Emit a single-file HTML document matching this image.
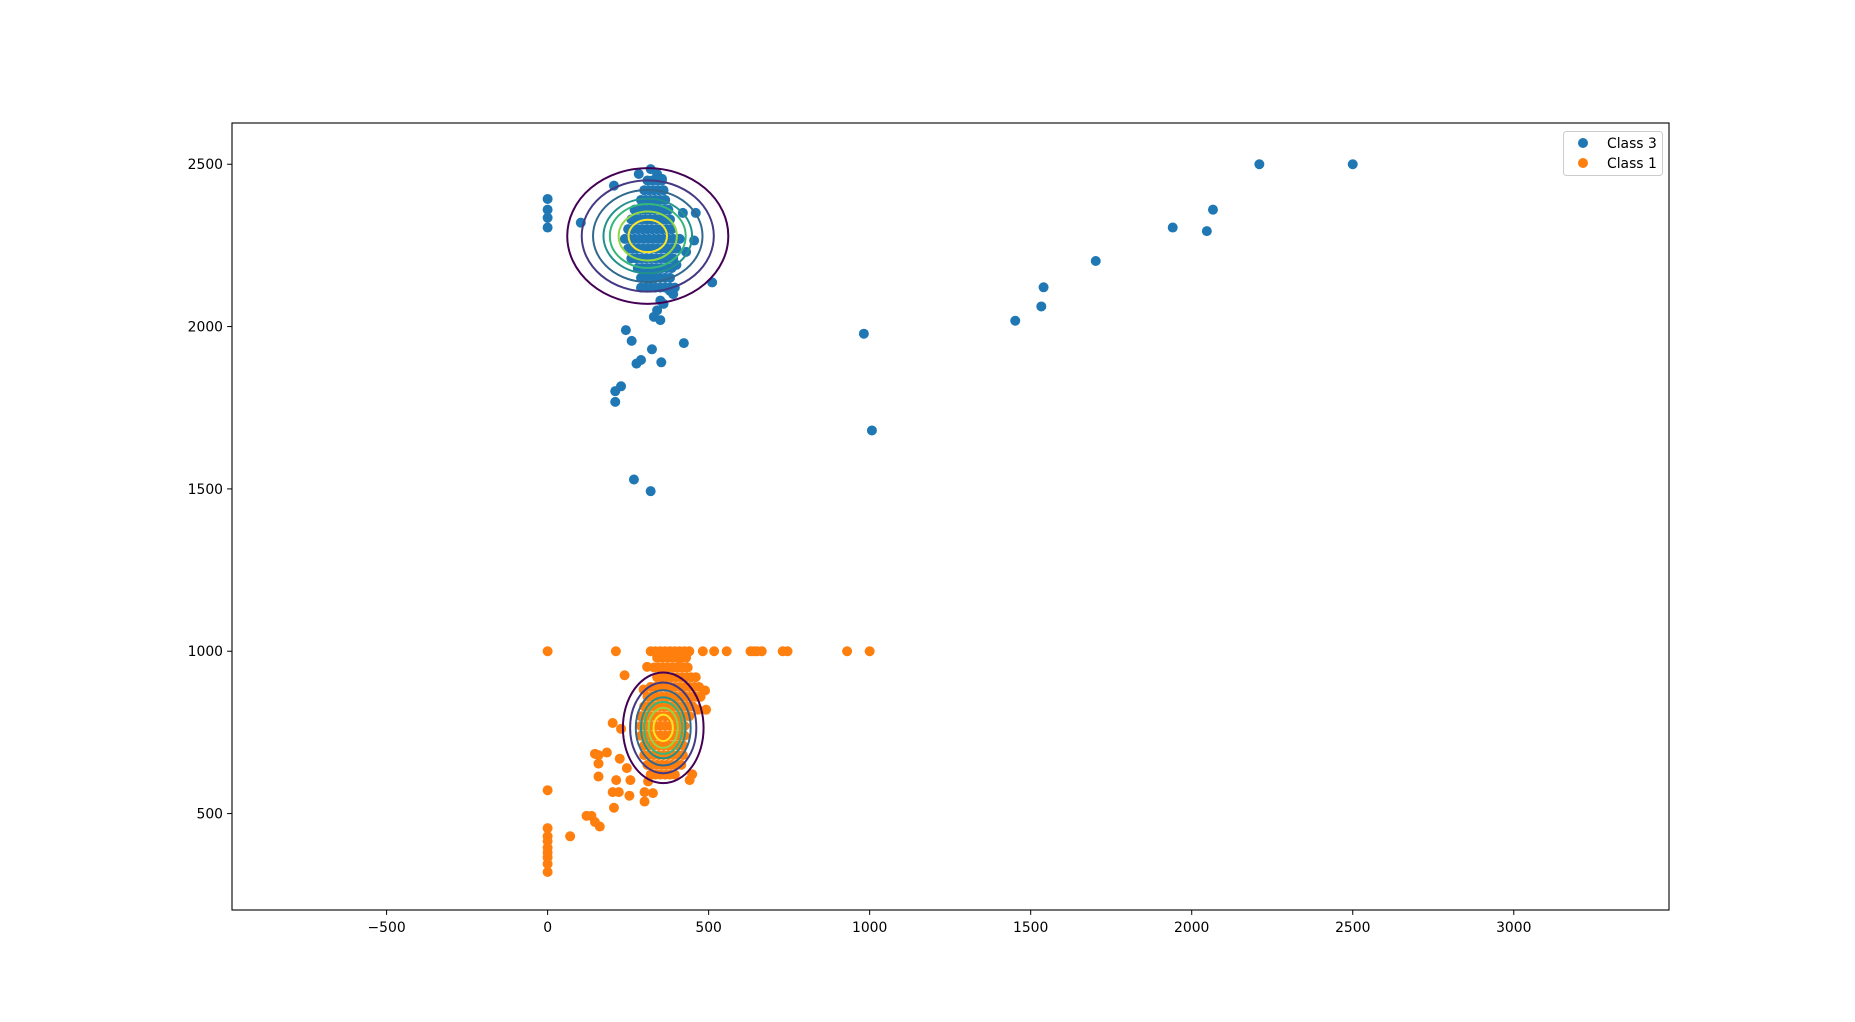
<!DOCTYPE html>
<html><head><meta charset="utf-8"><style>
html,body{margin:0;padding:0;background:#fff;}
svg{display:block;font-family:"DejaVu Sans","Liberation Sans",sans-serif;}
</style></head><body>
<svg id="chart" width="1855" height="1022" xmlns="http://www.w3.org/2000/svg">
<g id="marks"></g>
<g id="axes"></g>
</svg>
<script>
const class3X = [0,0,0,0,103,206,243,261,324,423,290,276,353,228,210,210,268,320,511,982,1007,1452,1533,1540,1702,1941,2047,2066,2210,2500,
 283,320,340,355,420,460,410,455,430,390,400,380,390,350,340,330,350,360,
 310,325,340,355,
 300,315,330,345,360,
 290,305,320,335,350,365,
 270,285,300,315,330,345,360,375,
 260,275,290,305,320,335,350,365,380,
 250,265,280,295,310,325,340,355,370,385,
 240,255,270,285,300,315,330,345,360,375,390,
 250,265,280,295,310,325,340,355,370,385,400,
 260,275,290,305,320,335,350,365,380,
 280,295,310,325,340,355,370,385,
 290,305,320,335,350,365,380,
 290,305,320,335,350,365,380,395];
const class3Y = [2393,2360,2335,2305,2320,2434,1989,1956,1930,1949,1897,1886,1890,1816,1801,1768,1529,1493,2136,1978,1680,2018,2062,2121,2202,2305,2294,2360,2500,2500,
 2470,2485,2470,2455,2350,2350,2270,2265,2230,2210,2190,2110,2100,2080,2050,2030,2020,2070,
 2450,2450,2450,2450,
 2420,2420,2420,2420,2420,
 2390,2390,2390,2390,2390,2390,
 2360,2360,2360,2360,2360,2360,2360,2360,
 2330,2330,2330,2330,2330,2330,2330,2330,2330,
 2300,2300,2300,2300,2300,2300,2300,2300,2300,2300,
 2270,2270,2270,2270,2270,2270,2270,2270,2270,2270,2270,
 2240,2240,2240,2240,2240,2240,2240,2240,2240,2240,2240,
 2210,2210,2210,2210,2210,2210,2210,2210,2210,
 2180,2180,2180,2180,2180,2180,2180,2180,
 2150,2150,2150,2150,2150,2150,2150,
 2120,2120,2120,2120,2120,2120,2120,2120];
const class1X = [0,212,320,335,350,365,380,395,410,425,440,482,517,556,630,640,650,665,730,745,930,1000,
 0,0,0,0,0,0,0,0,0,70,121,136,147,162,206,221,254,301,301,202,213,257,246,312,327,158,158,158,147,184,202,224,228,239,298,309,408,467,492,489,441,449,
 340,355,370,385,400,415,430,
 330,345,360,375,390,405,420,435,
 340,355,370,385,400,415,430,445,460,
 320,335,350,365,380,395,410,425,440,455,470,
 310,325,340,355,370,385,400,415,430,445,460,475,
 300,315,330,345,360,375,390,405,420,435,450,
 290,305,320,335,350,365,380,395,410,425,440,
 290,305,320,335,350,365,380,395,410,425,
 290,305,320,335,350,365,380,395,410,425,
 300,315,330,345,360,375,390,405,420,
 300,315,330,345,360,375,390,405,420,
 310,325,340,355,370,385,400,415,
 320,335,350,365,380,395];
const class1Y = [1000,1000,1000,1000,1000,1000,1000,1000,1000,1000,1000,1000,1000,1000,1000,1000,1000,1000,1000,1000,1000,1000,
 572,455,430,415,395,380,365,345,320,430,493,493,474,460,518,566,555,537,566,566,603,603,640,599,563,680,654,614,684,688,779,669,761,926,882,952,978,820,820,879,603,621,
 980,980,980,980,980,980,980,
 950,950,950,950,950,950,950,950,
 920,920,920,920,920,920,920,920,920,
 890,890,890,890,890,890,890,890,890,890,890,
 860,860,860,860,860,860,860,860,860,860,860,860,
 830,830,830,830,830,830,830,830,830,830,830,
 800,800,800,800,800,800,800,800,800,800,800,
 770,770,770,770,770,770,770,770,770,770,
 740,740,740,740,740,740,740,740,740,740,
 710,710,710,710,710,710,710,710,710,
 680,680,680,680,680,680,680,680,680,
 650,650,650,650,650,650,650,650,
 620,620,620,620,620,620];
const gaussCenterX = [311, 359];
const gaussCenterY = [2279, 764];
const gaussSigmaX = [89.4, 44.8];
const gaussSigmaY = [74.7, 60.9];
const contourLevels = [0.02,0.072,0.164,0.306,0.42,0.60,0.80];
const xTicks = [-500,0,500,1000,1500,2000,2500,3000];
const yTicks = [500,1000,1500,2000,2500];
const legendLabels = ["Class 3","Class 1"];

const NS="http://www.w3.org/2000/svg";
const L=232,R=1669,T=123,B=910;
const X0=-980,X1=3482,Y0=203,Y1=2627;
function sx(v){return L+(v-X0)/(X1-X0)*(R-L);}
function sy(v){return B-(v-Y0)/(Y1-Y0)*(B-T);}
function mk(tag,attrs,parent){const e=document.createElementNS(NS,tag);for(const k in attrs)e.setAttribute(k,attrs[k]);parent.appendChild(e);return e;}
const marks=document.getElementById('marks'), axes=document.getElementById('axes');
const colors=['#1f77b4','#ff7f0e'];
const seriesX=[class3X,class1X], seriesY=[class3Y,class1Y];
for(let s=0;s<2;s++){
  const n=Math.min(seriesX[s].length,seriesY[s].length);
  for(let i=0;i<n;i++){
    const c=mk('circle',{cx:sx(seriesX[s][i]),cy:sy(seriesY[s][i]),r:5,fill:colors[s]},marks);
    
    
  }
}
const viri=['#440154','#443983','#31688e','#21918c','#35b779','#90d743','#fde725'];
for(let g=0;g<2;g++){
  for(let j=0;j<contourLevels.length;j++){
    const k=Math.sqrt(-2*Math.log(contourLevels[j]));
    const rx=Math.abs(sx(gaussCenterX[g]+k*gaussSigmaX[g])-sx(gaussCenterX[g]));
    const ry=Math.abs(sy(gaussCenterY[g]+k*gaussSigmaY[g])-sy(gaussCenterY[g]));
    const e=mk('ellipse',{cx:sx(gaussCenterX[g]),cy:sy(gaussCenterY[g]),rx:rx,ry:ry,fill:'none',stroke:viri[j],'stroke-width':2},marks);
    
    
  }
}
const frame=mk('rect',{x:L,y:T,width:R-L,height:B-T,fill:'none',stroke:'#000','stroke-width':1.1},axes);


xTicks.forEach(t=>{
  const x=sx(t);
  const tk=mk('line',{x1:x,x2:x,y1:B,y2:B+4.9,stroke:'#000','stroke-width':1},axes);
  
  
  const tx=mk('text',{x:x,y:B+22,'text-anchor':'middle','font-size':'13.9px',fill:'#000'},axes);
  tx.textContent=t<0?'\u2212'+(-t):String(t);
  
  
});
yTicks.forEach(t=>{
  const y=sy(t);
  const tk=mk('line',{x1:L-4.9,x2:L,y1:y,y2:y,stroke:'#000','stroke-width':1},axes);
  
  
  const tx=mk('text',{x:L-9,y:y+5,'text-anchor':'end','font-size':'13.9px',fill:'#000'},axes);
  tx.textContent=String(t);
  
  
});
const lg=mk('g',{},axes);


mk('rect',{x:1563.5,y:131.5,width:99,height:44,rx:3,fill:'#fff',stroke:'#ccc','stroke-width':1},lg);
legendLabels.forEach((lab,i)=>{
  const c=mk('circle',{cx:1583,cy:143+i*20,r:5,fill:colors[i]},lg);
  
  
  const t=mk('text',{x:1607,y:148+i*20,'font-size':'13.9px',fill:'#000'},lg);
  t.textContent=lab;
  
  
});
</script>
</body></html>
